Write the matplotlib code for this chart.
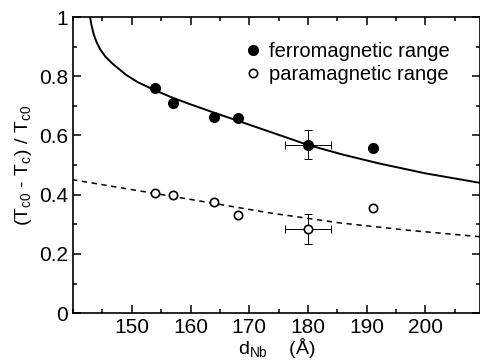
import numpy as np
import matplotlib
matplotlib.use('Agg')
import matplotlib.pyplot as plt
from matplotlib.ticker import MultipleLocator

plt.rcParams['font.family'] = ['Liberation Sans', 'DejaVu Sans']
plt.rcParams['mathtext.fontset'] = 'custom'
plt.rcParams['mathtext.rm'] = 'Liberation Sans'

# measured points
d_ferro = [154, 157, 164, 168, 180, 191]
y_ferro = [0.759, 0.708, 0.664, 0.658, 0.569, 0.556]
d_para = [154, 157, 164, 168, 180, 191]
y_para = [0.407, 0.400, 0.376, 0.332, 0.285, 0.356]

# error bars (only at 180 A)
err_d = [180]
err_xerr = [4]
err_yerr = [0.05]
err_ferro_y = [0.569]
err_para_y = [0.285]

# theory curves
d_solid = [142.9, 143.1, 143.5, 144.0, 144.6, 145.5, 146.8, 149.0, 151.0, 154.0, 157.0,
           160.0, 164.0, 168.0, 174.0, 180.0, 186.0, 192.0, 200.0, 209.3]
y_solid = [1.000, 0.975, 0.942, 0.915, 0.891, 0.866, 0.841, 0.805, 0.780, 0.752, 0.727,
           0.705, 0.677, 0.650, 0.609, 0.568, 0.535, 0.506, 0.472, 0.440]
d_dash = [139.8, 150.0, 160.0, 173.3, 185.3, 197.0, 209.3]
y_dash = [0.451, 0.417, 0.384, 0.339, 0.305, 0.280, 0.258]

fig = plt.figure(figsize=(4.81, 3.62), dpi=100)
ax = fig.add_axes([0.152, 0.135, 0.846, 0.818])

ax.plot(d_solid, y_solid, color='black', lw=1.4)
ax.plot(d_dash, y_dash, color='black', lw=1.1, ls=(0, (3.5, 3)))

ax.errorbar(err_d, err_ferro_y, xerr=err_xerr, yerr=err_yerr, fmt='none',
            ecolor='black', elinewidth=0.7, capsize=3, capthick=0.7)
ax.errorbar(err_d, err_para_y, xerr=err_xerr, yerr=err_yerr, fmt='none',
            ecolor='black', elinewidth=0.7, capsize=3, capthick=0.7)

ax.plot(d_ferro, y_ferro, 'o', color='black', ms=7, label='ferromagnetic range')
ax.plot(d_para, y_para, 'o', mfc='white', mec='black', mew=1.2, ms=6, label='paramagnetic range')

ax.set_xlim(140, 209.3)
ax.set_ylim(0, 1)
ax.xaxis.set_minor_locator(MultipleLocator(5))
ax.yaxis.set_minor_locator(MultipleLocator(0.1))
ax.set_xticks([150, 160, 170, 180, 190, 200])
ax.set_yticks([0, 0.2, 0.4, 0.6, 0.8, 1])
ax.set_yticklabels(['0', '0.2', '0.4', '0.6', '0.8', '1'])
ax.tick_params(which='both', direction='in', top=True, right=True, labelsize=15, width=1.1)
ax.tick_params(which='major', length=6)
ax.tick_params(which='minor', length=3)
for s in ax.spines.values():
    s.set_linewidth(1.2)

ax.set_xlabel(r'd$_{\rm Nb}$    (Å)', fontsize=14, labelpad=-1)
ax.set_ylabel(r'(T$_{\rm c0}$ - T$_{\rm c}$) / T$_{\rm c0}$', fontsize=14, labelpad=4)

ax.legend(loc='upper right', frameon=False, fontsize=14.5, handletextpad=0.35,
          handlelength=0.9, labelspacing=0.2, borderaxespad=0.6,
          bbox_to_anchor=(0.975, 0.985))

fig.savefig('out.png', dpi=100)
